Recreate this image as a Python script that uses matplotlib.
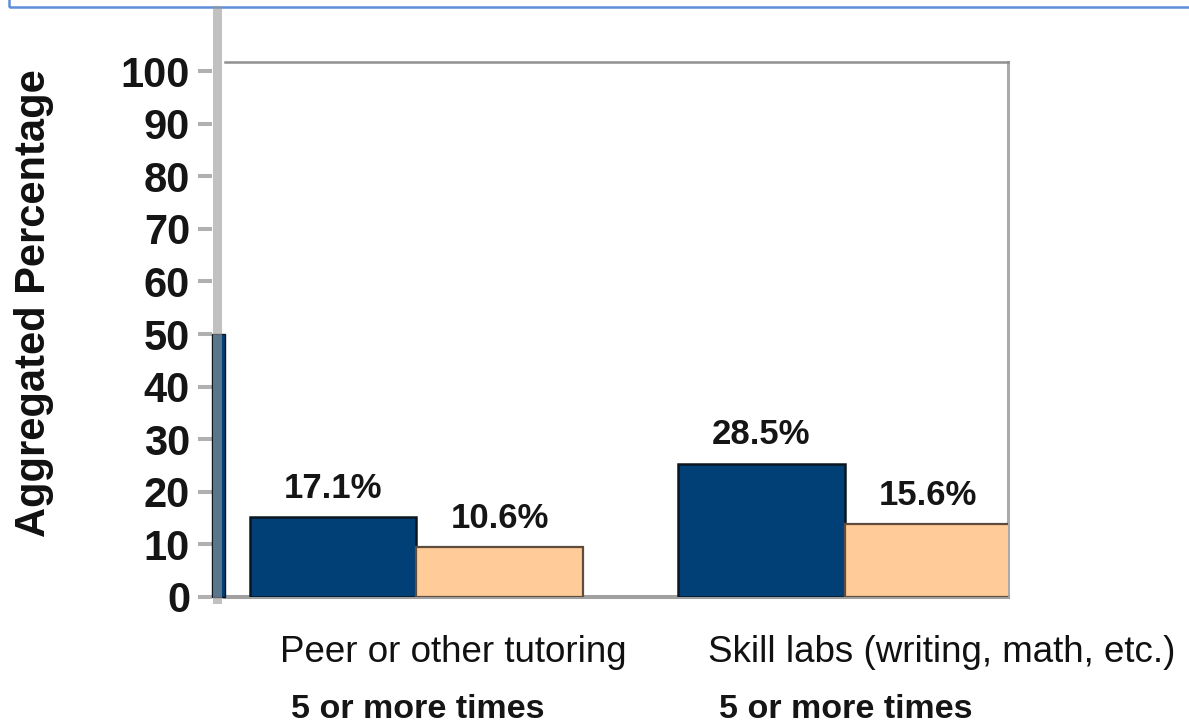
import matplotlib
matplotlib.use("Agg")
import matplotlib.pyplot as plt
from matplotlib.lines import Line2D
from matplotlib.patches import Rectangle

plt.rcParams['font.family'] = ['Liberation Sans', 'DejaVu Sans']

# data
categories = ["Peer or other tutoring", "Skill labs (writing, math, etc.)"]
sublabels = ["5 or more times", "5 or more times"]
blue_vals = [17.1, 28.5]
peach_vals = [10.6, 15.6]
yticks = [0, 10, 20, 30, 40, 50, 60, 70, 80, 90, 100]
edge_bar = 50.0   # cut-off bar of the neighbouring chart at the left edge

# the bars sit lower than the printed axis scale, so map bar units -> axis units
k = 0.89
def fwd(v):
    return v * k
def inv(v):
    return v / k

W, H = 1189, 726
fig = plt.figure(figsize=(W / 100, H / 100), dpi=100)
ax = fig.add_axes([225 / W, 1 - 597 / H, (1008 - 225) / W, 535 / H])

bw = 0.388
x = list(range(len(categories)))
ax.bar([i - bw / 2 for i in x], blue_vals, width=bw, color='#004077',
       edgecolor='#0b1620', linewidth=1.8, zorder=3)
ax.bar([i + bw / 2 for i in x], peach_vals, width=bw, color='#ffcc99',
       edgecolor='#5e4c3c', linewidth=1.6, zorder=3)
ax.bar([-0.4624], [inv(edge_bar)], width=0.03, color='#004077',
       edgecolor='#0b1620', linewidth=1.0, clip_on=False, zorder=3)

for i in x:
    ax.annotate(f"{blue_vals[i]}%", (i - bw / 2, blue_vals[i]), xytext=(0, 14),
                textcoords='offset points', ha='center', va='baseline',
                fontsize=25, fontweight='bold', color='#151515')
    ax.annotate(f"{peach_vals[i]}%", (i + bw / 2, peach_vals[i]), xytext=(0, 14),
                textcoords='offset points', ha='center', va='baseline',
                fontsize=25, fontweight='bold', color='#151515')
    ax.text(i - 0.318, -0.1215, categories[i], transform=ax.get_xaxis_transform(),
            ha='left', va='baseline', fontsize=26.5, color='#111111')
    ax.text(i - 0.293, -0.226, sublabels[i], transform=ax.get_xaxis_transform(),
            ha='left', va='baseline', fontsize=24.5, fontweight='bold', color='#151515')

ax.set_xlim(-0.4474, 1.382)
ax.set_ylim(0, 114.3)
ax.set_xticks([])
ax.tick_params(left=False, labelleft=False)
ax.spines['left'].set_visible(False)
ax.spines['top'].set_color('#909090')
ax.spines['top'].set_linewidth(1.8)
ax.spines['right'].set_color('#aaaaaa')
ax.spines['right'].set_linewidth(2.2)
ax.spines['bottom'].set_color('#a0a0a0')
ax.spines['bottom'].set_linewidth(2.9)

sec = ax.secondary_yaxis(-0.0166, functions=(fwd, inv))
sec.set_yticks(yticks)
sec.spines['left'].set_visible(False)
sec.tick_params(axis='y', length=10, width=2.9, color='#b0b0b0', pad=5.8,
                labelsize=30, labelcolor='#151515')
for lab in sec.get_yticklabels():
    lab.set_fontweight('bold')

# grey vertical rule over the left edge
fig.add_artist(Line2D([216.5 / W, 216.5 / W], [1 - 10 / H, 1 - 599 / H],
                      color='#999999', alpha=0.6, linewidth=6.5))
# blue frame of the panel above
fig.add_artist(Rectangle((9 / W, 1 - 7 / H), 1.2, 0.5, transform=fig.transFigure,
                         fill=False, edgecolor='#5d8fd8', linewidth=1.8))

fig.text(34 / W, 1 - 303 / H, "Aggregated Percentage", rotation=90,
         ha='center', va='center', fontsize=30, fontweight='bold', color='#111111')

fig.savefig("out.png", dpi=100)
